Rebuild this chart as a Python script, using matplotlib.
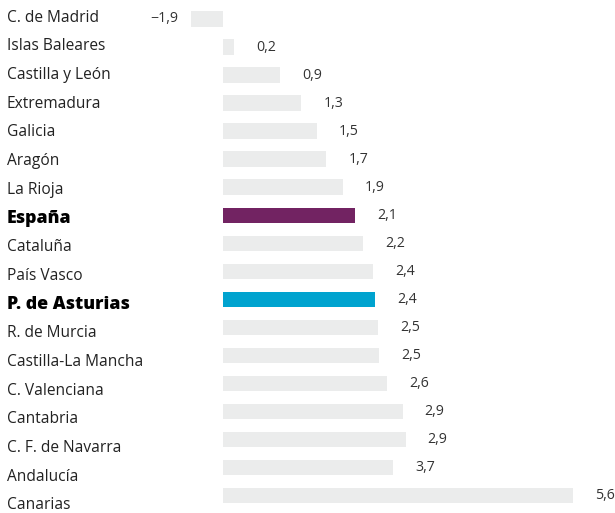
import matplotlib.pyplot as plt
from matplotlib import transforms

plt.rcParams["font.family"] = ["Open Sans", "DejaVu Sans"]

regions = [
    "C. de Madrid", "Islas Baleares", "Castilla y León", "Extremadura",
    "Galicia", "Aragón", "La Rioja", "España", "Cataluña", "País Vasco",
    "P. de Asturias", "R. de Murcia", "Castilla-La Mancha", "C. Valenciana",
    "Cantabria", "C. F. de Navarra", "Andalucía", "Canarias",
]
# printed value labels
value_text = [
    "\u22121,9", "0,2", "0,9", "1,3", "1,5", "1,7", "1,9", "2,1", "2,2",
    "2,4", "2,4", "2,5", "2,5", "2,6", "2,9", "2,9", "3,7", "5,6",
]
# bar lengths as drawn in the source graphic (not always matching the labels)
bar_len = [
    -0.50, 0.19, 0.92, 1.26, 1.51, 1.66, 1.93, 2.12, 2.25,
    2.41, 2.44, 2.49, 2.50, 2.63, 2.88, 2.93, 2.73, 5.60,
]
highlight = {"España": "#722362", "P. de Asturias": "#00A3CF"}

GREY = "#EBECEC"
W, H = 615, 513

fig = plt.figure(figsize=(W / 100, H / 100), dpi=100)

# bars: zero at x=222.5 px, 62.54 px per unit; rows start at y=19 px, 28.03 px apart
ax = fig.add_axes([0, 0, 1, 1])
ax.set_xlim(-222.5 / 62.54, (W - 222.5) / 62.54)
ax.set_ylim((H - 19) / 28.03, -19 / 28.03)
ax.axis("off")

# category labels use a slightly wider row pitch
ax_lab = fig.add_axes([0, 0, 1, 1])
ax_lab.set_ylim((H - 17.5) / 28.7, -17.5 / 28.7)
ax_lab.axis("off")

colors = [highlight.get(r, GREY) for r in regions]
rows = range(len(regions))
ax.barh(rows, bar_len, height=0.55, color=colors, linewidth=0)

for i, (v, t) in enumerate(zip(bar_len, value_text)):
    if v < 0:
        ax.annotate(t, (v, i), xytext=(-13, 0), textcoords="offset pixels",
                    ha="right", va="center", fontsize=10.2, color="#333333")
    else:
        ax.annotate(t, (v, i), xytext=(22, 0), textcoords="offset pixels",
                    ha="left", va="center", fontsize=10.2, color="#333333")

trans = transforms.blended_transform_factory(fig.transFigure, ax_lab.transData)
for i, r in enumerate(regions):
    if r in highlight:
        ax_lab.text(7 / W, i, r, transform=trans, ha="left", va="center",
                    fontsize=12.8, color="#000000", fontweight="heavy")
    else:
        ax_lab.text(7 / W, i, r, transform=trans, ha="left", va="center",
                    fontsize=11.2, color="#222222")

fig.savefig("out.png", dpi=100)
plt.close(fig)
